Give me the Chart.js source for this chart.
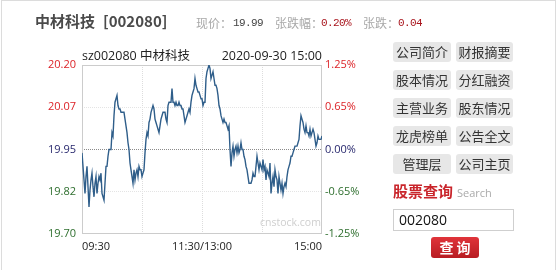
<!DOCTYPE html>
<html><head><meta charset="utf-8">
<script src="https://cdn.jsdelivr.net/npm/chart.js@4/dist/chart.umd.min.js"></script>
<style>
html,body{margin:0;padding:0;background:#fff;}
body{width:558px;height:270px;position:relative;overflow:hidden;font-family:"Open Sans","Noto Sans CJK SC",sans-serif;}
.frame{position:absolute;left:1px;top:0;width:555px;height:272px;border:1px solid #dcdcdc;border-bottom:none;box-sizing:border-box;}
.abs{position:absolute;white-space:nowrap;}
#chart{position:absolute;left:0;top:0;}
.hd{font:bold 15px "Noto Sans CJK SC",sans-serif;color:#4a4a4a;top:11px;line-height:20px;}
.ql{font:12px "Noto Sans CJK SC",sans-serif;color:#a8a8a8;top:14px;line-height:18px;}
.qv{font:11px "Liberation Mono",monospace;color:#444;top:14px;line-height:18px;letter-spacing:-0.6px;}
.qr{color:#a8141c;}
.ct{font:12.5px "Open Sans","Noto Sans CJK SC",sans-serif;color:#222;top:47px;line-height:18px;}
.btn{position:absolute;height:20px;line-height:20px;background:#e7e7e7;border-radius:3px;text-align:center;font:13px "Noto Sans CJK SC",sans-serif;color:#333;}
</style></head>
<body>
<div class="frame"></div>
<canvas id="chart" width="382" height="270"></canvas>
<div class="abs hd" style="left:35px;">中材科技</div>
<div class="abs hd" style="left:103px;">[002080]</div>
<div class="abs ql" style="left:196px;">现价：</div>
<div class="abs qv" style="left:233px;">19.99</div>
<div class="abs ql" style="left:275px;">张跌幅：</div>
<div class="abs qv qr" style="left:321px;">0.20%</div>
<div class="abs ql" style="left:363px;">张跌：</div>
<div class="abs qv qr" style="left:398px;">0.04</div>
<div class="abs ct" style="left:82px;">sz002080 中材科技</div>
<div class="abs ct" style="right:236px;">2020-09-30 15:00</div>
<div class="abs" style="left:260px;top:215px;font:10.5px 'Open Sans',sans-serif;color:#cfcfcf;">cnstock.com</div>

<div class="btn" style="left:393px;top:42px;width:58px;">公司简介</div>
<div class="btn" style="left:456px;top:42px;width:57px;">财报摘要</div>
<div class="btn" style="left:393px;top:70px;width:58px;">股本情况</div>
<div class="btn" style="left:456px;top:70px;width:57px;">分红融资</div>
<div class="btn" style="left:393px;top:98px;width:58px;">主营业务</div>
<div class="btn" style="left:456px;top:98px;width:57px;">股东情况</div>
<div class="btn" style="left:393px;top:126px;width:58px;">龙虎榜单</div>
<div class="btn" style="left:456px;top:126px;width:57px;">公告全文</div>
<div class="btn" style="left:393px;top:154px;width:58px;">管理层</div>
<div class="btn" style="left:456px;top:154px;width:57px;">公司主页</div>
<div class="abs" style="left:393px;top:180px;font:bold 15px 'Noto Sans CJK SC',serif;color:#c9252b;line-height:22px;">股票查询</div>
<div class="abs" style="left:457px;top:186px;font:11px 'Open Sans',sans-serif;color:#aaa;line-height:14px;">Search</div>
<div class="abs" style="left:393px;top:209px;width:121px;height:22px;border:1px solid #cfcfcf;box-sizing:border-box;font:14px 'Open Sans',sans-serif;color:#111;line-height:20px;padding-left:5px;">002080</div>
<div class="abs" style="left:431px;top:237px;width:48px;height:21px;border-radius:3px;background:linear-gradient(#e0343a,#b81c22);color:#fff;font:bold 14px 'Noto Sans CJK SC',sans-serif;line-height:21px;text-align:center;">查&nbsp;询</div>

<script>
const prevClose = 19.95;
const prices = [
19.94,19.90,19.86,19.82,19.87,19.90,19.84,19.78,19.83,19.86,
19.88,19.84,19.81,19.85,19.87,19.82,19.85,19.87,19.86,19.88,
19.82,19.81,19.80,19.85,19.90,19.90,19.93,19.95,19.95,19.95,
20.00,19.99,20.05,20.09,20.10,20.11,20.08,20.07,20.07,20.06,
20.06,20.06,20.06,20.04,20.02,20.00,19.97,19.95,19.91,19.89,
19.87,19.85,19.89,19.86,19.88,19.89,19.87,19.90,19.89,19.89,
19.87,19.88,19.89,19.94,19.98,20.00,19.99,20.03,20.04,20.06,
20.07,20.08,20.07,20.04,20.03,20.02,20.01,20.00,20.02,20.04,
20.05,20.06,20.06,20.06,20.04,20.03,20.08,20.09,20.09,20.09,
20.13,20.09,20.09,20.08,20.09,20.08,20.08,20.09,20.08,20.08,
20.07,20.07,20.05,20.03,20.04,20.05,20.06,20.07,20.06,20.09,
20.11,20.12,20.13,20.16,20.14,20.13,20.12,20.12,20.11,20.10,
20.10,20.08,20.09,20.09,20.16,20.18,20.19,20.20,20.19,20.16,
20.17,20.18,20.16,20.14,20.14,20.13,20.11,20.08,20.07,20.05,
20.04,20.03,20.04,20.03,20.03,20.02,20.01,20.02,19.95,19.90,
19.94,19.96,19.93,19.95,19.96,19.94,19.96,19.94,19.95,19.97,
19.95,19.95,19.93,19.92,19.90,19.89,19.87,19.85,19.85,19.85,
19.86,19.88,19.87,19.87,19.90,19.93,19.91,19.89,19.91,19.90,
19.89,19.92,19.89,19.90,19.86,19.89,19.88,19.87,19.91,19.82,
19.85,19.87,19.84,19.89,19.87,19.86,19.82,19.87,19.85,19.83,
19.85,19.82,19.84,19.85,19.84,19.87,19.89,19.90,19.91,19.93,
19.93,19.94,19.95,19.96,19.96,19.96,19.97,19.98,20.02,20.05,
20.04,20.03,20.01,20.00,20.02,20.00,20.00,19.99,20.01,19.99,
20.00,20.01,20.00,19.98,19.96,19.97,19.99,19.98,19.98,19.98,
19.99
];
const yTickValues = [19.70, 19.825, 19.95, 20.075, 20.20];
const yTickLabels = ['19.70','19.82','19.95','20.07','20.20'];
const pctTickLabels = ['-1.25%','-0.65%','0.00%','0.65%','1.25%'];
const tickColors = ['#2f6f2f','#2f6f2f','#29296e','#dc2328','#dc2328'];
const yGridColors = ['rgba(0,0,0,0)','#e4e4e4','#8a8a8a','#e4e4e4','rgba(0,0,0,0)'];
const xTickValues = [0, 60, 120, 180, 240];
const xTickLabels = ['09:30','','11:30/13:00','','15:00'];

const framePlugin = {
  id:'frame',
  beforeDatasetsDraw(chart){
    const a = chart.chartArea, c = chart.ctx;
    c.save(); c.strokeStyle='#cccccc'; c.lineWidth=1;
    c.strokeRect(a.left+0.5, a.top+0.5, a.right-a.left-1, a.bottom-a.top-1);
    c.restore();
  }
};
const tickFont = {family:"'Open Sans', sans-serif", size:11};
new Chart(document.getElementById('chart'), {
  type:'line',
  data:{datasets:[{
    data: prices.map((p,i)=>({x:i,y:p})),
    borderColor:'#2f5e8a', borderWidth:1.4, pointRadius:0, tension:0, fill:false
  }]},
  options:{
    responsive:false, animation:false,
    layout:{padding:{top:65,left:0,right:0,bottom:0}},
    plugins:{legend:{display:false},tooltip:{enabled:false},title:{display:false}},
    scales:{
      x:{type:'linear', min:0, max:240,
        afterBuildTicks(s){ s.ticks = xTickValues.map(v=>({value:v})); },
        afterFit(s){ s.height = 36; },
        ticks:{autoSkip:false, maxRotation:0, align:'inner', padding:6, color:'#222', font:tickFont,
          callback:(v,i)=>xTickLabels[i]},
        grid:{drawTicks:false, color:(c)=> (c.index===0||c.index===4)?'rgba(0,0,0,0)':'#dddddd'},
        border:{display:false, dash:[1,1]}
      },
      y:{position:'left', min:19.70, max:20.20,
        afterBuildTicks(s){ s.ticks = yTickValues.map(v=>({value:v})); },
        afterFit(s){ s.width = 82; },
        ticks:{padding:6, font:tickFont, color:(c)=>tickColors[c.index], callback:(v,i)=>yTickLabels[i]},
        grid:{drawTicks:false, color:(c)=>yGridColors[c.index]},
        border:{display:false, dash:[1,1]}
      },
      y2:{position:'right', min:19.70, max:20.20,
        afterBuildTicks(s){ s.ticks = yTickValues.map(v=>({value:v})); },
        afterFit(s){ s.width = 60; },
        ticks:{padding:3, font:tickFont, color:(c)=>tickColors[c.index], callback:(v,i)=>pctTickLabels[i]},
        grid:{display:false, drawTicks:false},
        border:{display:false}
      }
    }
  },
  plugins:[framePlugin]
});
</script>
</body></html>
